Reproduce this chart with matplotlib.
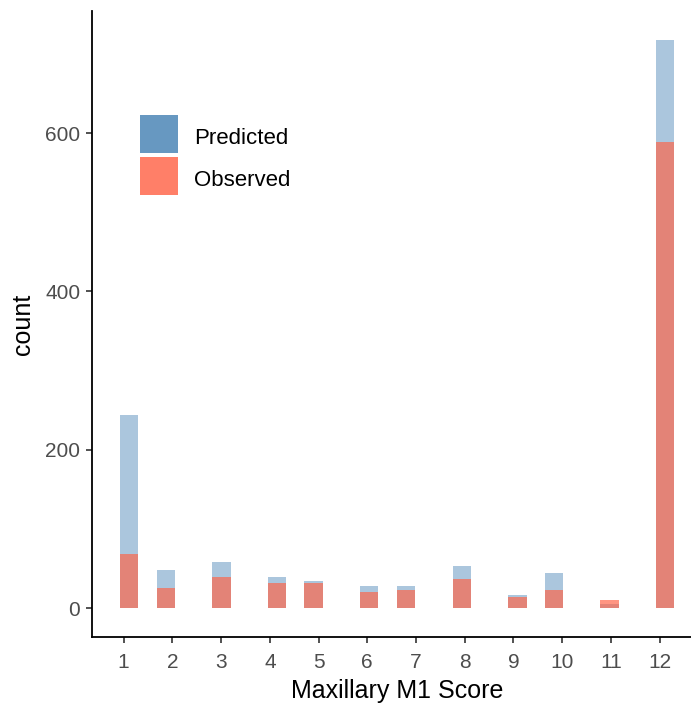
import matplotlib
matplotlib.use("Agg")
import matplotlib.pyplot as plt
from matplotlib.patches import Patch

plt.rcParams['font.family'] = ['Liberation Sans', 'DejaVu Sans']

# Data
scores = [1, 2, 3, 4, 5, 6, 7, 8, 9, 10, 11, 12]
bin_centers = [1.11, 1.87, 3.01, 4.15, 4.90, 6.04, 6.80, 7.94, 9.08, 9.83, 10.97, 12.11]
bin_width = 0.379
predicted = [244, 48, 59, 39, 35, 28, 28, 53, 17, 44, 6, 718]
observed = [68, 25, 39, 32, 32, 20, 23, 37, 14, 23, 10, 589]
y_ticks = [0, 200, 400, 600]

pred_color = '#4682B4'   # steelblue
obs_color = '#FF6347'    # tomato

W, H = 691, 708
fig = plt.figure(figsize=(W / 100, H / 100), dpi=100)
left, right, top, bottom = 92, 702.5, 11.2, 636.7
ax = fig.add_axes([left / W, 1 - bottom / H, (right - left) / W, (bottom - top) / H])

ax.bar(bin_centers, predicted, width=bin_width, color=pred_color, alpha=0.45,
       linewidth=0, label='Predicted')
ax.bar(bin_centers, observed, width=bin_width, color=obs_color, alpha=0.68,
       linewidth=0, label='Observed')

ax.set_xlim(0.35, 12.88)
ax.set_ylim(-35.9, 753.9)
ax.set_xticks(scores)
ax.set_xticklabels([str(s) for s in scores])
ax.set_yticks(y_ticks)

for s in ['top', 'right']:
    ax.spines[s].set_visible(False)
for s in ['left', 'bottom']:
    ax.spines[s].set_linewidth(1.3)
    ax.spines[s].set_color('black')

ax.tick_params(axis='both', length=4.5, width=1.2, color='#333333',
               labelcolor='#4D4D4D', labelsize=15, pad=4)
ax.tick_params(axis='x', pad=7)

ax.set_xlabel('Maxillary M1 Score', fontsize=18, color='black', labelpad=5)
ax.set_ylabel('count', fontsize=18, color='black', labelpad=7)

handles = [Patch(facecolor=pred_color, alpha=0.82, edgecolor='none'),
           Patch(facecolor=obs_color, alpha=0.82, edgecolor='none')]
ax_w, ax_h = right - left, bottom - top
leg = ax.legend(handles, ['Predicted', 'Observed'], loc='upper left',
                bbox_to_anchor=((140 - left) / ax_w, 1 - (115 - top) / ax_h),
                frameon=False, fontsize=16, handlelength=1.71, handleheight=2.26,
                labelspacing=0.18, handletextpad=0.73, borderaxespad=0, borderpad=0)
for t in leg.get_texts():
    t.set_y(-3)

fig.savefig('out.png', dpi=100)
